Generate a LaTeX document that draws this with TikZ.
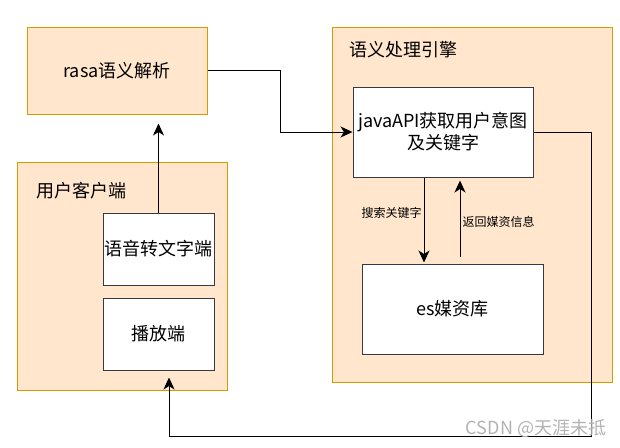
\documentclass[tikz,border=0pt]{standalone}
\usepackage{fontspec}
\setmainfont{Noto Sans CJK SC}
\usepackage{tikz}
\usetikzlibrary{positioning,arrows.meta,calc}
\definecolor{grpfill}{HTML}{FFE6CC}
\definecolor{grpline}{HTML}{D79B00}
\definecolor{boxline}{HTML}{36393D}
\tikzset{
group/.style={
draw=grpline,
fill=grpfill,
line width=1pt,
inner sep=0pt,
align=center,
font=\fontsize{18}{22}\selectfont
},
module/.style={
draw=boxline,
fill=white,
line width=1pt,
inner sep=0pt,
align=center,
font=\fontsize{18}{22}\selectfont
},
grouplabel/.style={
anchor=west,
inner sep=0pt,
font=\fontsize{18}{22}\selectfont
},
edgelabel/.style={
inner sep=2pt,
font=\fontsize{12}{14}\selectfont
},
arrow/.style={
-{Stealth[length=12pt,width=11pt,inset=3.5pt]},
line width=1pt
}
}

\begin{document}
\begin{tikzpicture}[x=1pt,y=-1pt]
\useasboundingbox (0,0) rectangle (620,447);

% groups
\node[group,minimum width=180pt,minimum height=87pt](rasa) at (117,70.5){rasa语义解析};
\node[group,minimum width=280pt,minimum height=355pt](engine) at (472,204.5){};
\node[group,minimum width=210pt,minimum height=228pt](client) at (122,276){};
\node[grouplabel](enginelbl) at (349,50){语义处理引擎};
\node[grouplabel](clientlbl) at (36,191){用户客户端};

% modules
\node[module,minimum width=180pt,minimum height=90pt](java) at (443,132){javaAPI获取用户意图\\及关键字};
\node[module,minimum width=181pt,minimum height=90pt](es) at (452.5,309){es媒资库};
\node[module,minimum width=111pt,minimum height=72pt](speech) at (158.5,249){语音转文字端};
\node[module,minimum width=111pt,minimum height=72pt,below=12pt of speech](play){播放端};

% connectors
\draw[arrow,shorten >=9pt](speech.north)--(speech.north |- rasa.south);
\draw[arrow](rasa.east)--++(73,0)|-(java.west);
\draw[arrow,shorten >=1pt]([xshift=-19pt]java.south)--([xshift=-19pt]java.south |- es.north)
node[edgelabel,pos=0.41,left]{搜索关键字};
\draw[arrow,shorten <=7pt,shorten >=3pt]([xshift=17pt]java.south |- es.north)--([xshift=17pt]java.south)
node[edgelabel,pos=0.48,right]{返回媒资信息};
\draw[arrow,shorten >=7pt](java.east)--++(58,0)--++(0,304)-|([xshift=10.5pt]play.south);

\node[text=gray!60,font=\fontsize{18}{22}\selectfont](mark) at (536,428){CSDN @天涯未抵};
\end{tikzpicture}
\end{document}
